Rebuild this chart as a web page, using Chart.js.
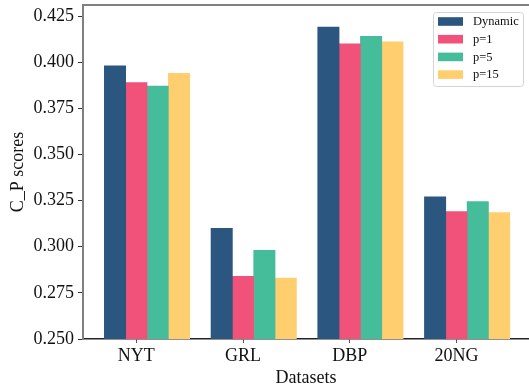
<!DOCTYPE html>
<html>
<head>
<meta charset="utf-8">
<script src="https://cdn.jsdelivr.net/npm/chart.js@4.4.0/dist/chart.umd.min.js"></script>
<style>
  html, body { margin: 0; padding: 0; background: #fff; }
  #wrap { width: 529px; height: 385px; }
</style>
</head>
<body>
<div id="wrap"><canvas id="myChart" width="529" height="385"></canvas></div>
<script>
// data
const datasets_names = ["NYT", "GRL", "DBP", "20NG"];
const seriesNames = ["Dynamic", "p=1", "p=5", "p=15"];
const dynamicVals = [0.398, 0.310, 0.419, 0.327];
const p1Vals = [0.389, 0.284, 0.410, 0.319];
const p5Vals = [0.387, 0.298, 0.414, 0.3245];
const p15Vals = [0.394, 0.283, 0.411, 0.3185];
const yTicks = [0.250, 0.275, 0.300, 0.325, 0.350, 0.375, 0.400, 0.425];

const colors = ["#2B567F", "#F0527A", "#46BD9A", "#FFCE6F"];
const offsets = [-0.2, 0, 0.2, 0.4];
const serif = "'Liberation Serif', serif";

function toPoints(vals, off) {
  return vals.map((v, i) => ({ x: i + off, y: v }));
}

// legend + top spine, drawn by hand like matplotlib does
const framePlugin = {
  id: "frame",
  afterDraw(chart) {
    const ctx = chart.ctx;
    const area = chart.chartArea;
    ctx.save();
    ctx.strokeStyle = "#808080";
    ctx.lineWidth = 2;
    ctx.beginPath();
    ctx.moveTo(area.left - 1, area.top);
    ctx.lineTo(area.right + 2, area.top);
    ctx.stroke();

    // legend box
    const bx = 433.5, by = 12.5, bw = 90, bh = 74;
    ctx.fillStyle = "rgba(255,255,255,0.9)";
    ctx.strokeStyle = "#d4d4d4";
    ctx.lineWidth = 1;
    ctx.beginPath();
    ctx.roundRect(bx, by, bw, bh, 3);
    ctx.fill();
    ctx.stroke();

    ctx.font = "12.5px " + serif;
    ctx.textBaseline = "middle";
    chart.data.datasets.forEach((ds, i) => {
      const cy = 21.5 + i * 17.7;
      ctx.fillStyle = ds.backgroundColor;
      ctx.fillRect(438, cy - 4.3, 25, 8.6);
      ctx.fillStyle = "#111";
      ctx.fillText(ds.label, 473, cy + 0.5);
    });
    ctx.restore();
  }
};

function initChart(target) {
  const data = {
    datasets: [dynamicVals, p1Vals, p5Vals, p15Vals].map((vals, k) => ({
      label: seriesNames[k],
      data: toPoints(vals, offsets[k]),
      backgroundColor: colors[k],
      borderWidth: 0,
      grouped: false,
      categoryPercentage: 1,
      barPercentage: 1
    }))
  };

  const config = {
    type: "bar",
    data: data,
    options: {
      responsive: false,
      animation: false,
      layout: { padding: { top: 5, left: 0, right: 0, bottom: 0 } },
      plugins: {
        legend: { display: false },
        tooltip: { enabled: false }
      },
      scales: {
        x: {
          type: "linear",
          offset: false,
          min: -0.5,
          max: 3.68,
          afterBuildTicks: (scale) => {
            scale.ticks = datasets_names.map((c, i) => ({ value: i }));
          },
          afterFit: (scale) => {
            scale.height = 46;
            scale.paddingLeft = 0;
            scale.paddingRight = 0;
          },
          ticks: {
            callback: (value) => datasets_names[value],
            font: { family: serif, size: 18 },
            color: "#111",
            padding: 2,
            maxRotation: 0
          },
          grid: {
            offset: false,
            drawOnChartArea: false,
            drawTicks: true,
            tickLength: 4,
            // only the four category ticks get a mark
            tickColor: (ctx) => (ctx.tick && Number.isInteger(ctx.tick.value) ? "#555" : "rgba(0,0,0,0)")
          },
          border: { color: "#222", width: 1.5 },
          title: {
            display: true,
            text: "Datasets",
            font: { family: serif, size: 18, lineHeight: 0.8 },
            color: "#111",
            padding: { top: 0, bottom: 0 }
          }
        },
        y: {
          min: 0.25,
          max: 0.431,
          afterBuildTicks: (scale) => {
            scale.ticks = yTicks.map((v) => ({ value: v }));
          },
          afterFit: (scale) => {
            scale.width = 83;
            scale.paddingTop = 0;
            scale.paddingBottom = 0;
          },
          ticks: {
            callback: (value) => value.toFixed(3),
            font: { family: serif, size: 18 },
            color: "#111",
            padding: 4
          },
          grid: {
            drawOnChartArea: false,
            drawTicks: true,
            tickLength: 5,
            tickColor: "#333"
          },
          border: { color: "#808080", width: 2 },
          title: {
            display: true,
            text: "C_P scores",
            font: { family: serif, size: 18, lineHeight: 1.2 },
            color: "#111",
            padding: { top: 7, bottom: 0 }
          }
        }
      }
    },
    plugins: [framePlugin]
  };

  return new Chart(target, config);
}

document.addEventListener("DOMContentLoaded", () => {
  initChart(document.querySelector("#myChart"));
});
</script>
</body>
</html>
